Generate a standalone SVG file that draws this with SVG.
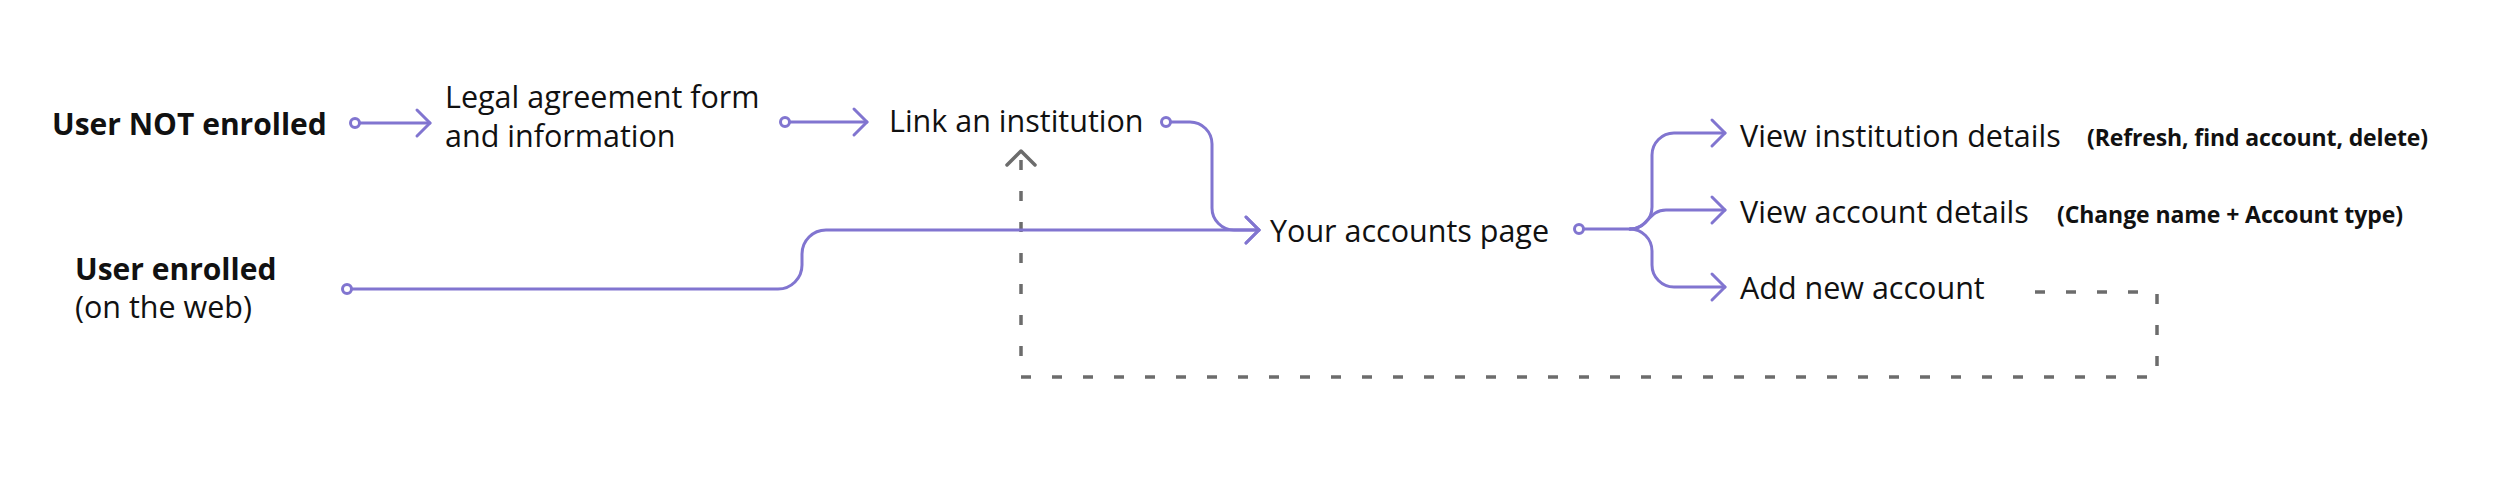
<svg xmlns="http://www.w3.org/2000/svg" width="2500" height="488" viewBox="0 0 2500 488">
  <style>
    .t { font-family: "Open Sans", "Noto Sans", "Liberation Sans", sans-serif; font-size: 30.5px; fill: #111; }
    .b { font-weight: 700; font-size: 30px; }
    .s { font-family: "Open Sans", "Noto Sans", "Liberation Sans", sans-serif; font-size: 23px; font-weight: 700; fill: #111; }
    .c { fill: none; stroke: #8175d0; stroke-width: 3; stroke-linecap: round; stroke-linejoin: round; }
    .d { fill: none; stroke: #6c6c6c; stroke-width: 3.5; stroke-dasharray: 10 21; }
  </style>
  <defs>
    <marker id="arr" markerUnits="userSpaceOnUse" viewBox="-16 -16 20 32" refX="0" refY="0" markerWidth="20" markerHeight="32" orient="auto" overflow="visible">
      <path d="M-13,-13 L0,0 L-13,13" fill="none" stroke="#8175d0" stroke-width="3" stroke-linecap="round" stroke-linejoin="round"/>
    </marker>
    <marker id="dot" markerUnits="userSpaceOnUse" viewBox="-8 -8 16 16" refX="0" refY="0" markerWidth="16" markerHeight="16" orient="auto" overflow="visible">
      <circle cx="0" cy="0" r="4.5" fill="#fff" stroke="#8175d0" stroke-width="3"/>
    </marker>
    <marker id="garr" markerUnits="userSpaceOnUse" viewBox="-16 -16 20 32" refX="0" refY="0" markerWidth="20" markerHeight="32" orient="auto" overflow="visible">
      <path d="M-14,-14 L0,0 L-14,14" fill="none" stroke="#6c6c6c" stroke-width="3.5" stroke-linecap="round" stroke-linejoin="round"/>
    </marker>
  </defs>

  <g id="connectors">
    <path class="d" d="M2035,292 H2157 V377 H1021 V151" marker-end="url(#garr)"/>
    <path class="c" d="M355,123 H430" marker-start="url(#dot)" marker-end="url(#arr)"/>
    <path class="c" d="M785,122 H867" marker-start="url(#dot)" marker-end="url(#arr)"/>
    <path class="c" d="M1166,122 H1190 A22,22 0 0 1 1212,144 V208 A22,22 0 0 0 1234,230 H1259" marker-start="url(#dot)" marker-end="url(#arr)"/>
    <path class="c" d="M347,289 H778 A24,24 0 0 0 802,265 V254 A24,24 0 0 1 826,230 H1259" marker-start="url(#dot)" marker-end="url(#arr)"/>
    <path class="c" d="M1630,229 A22,22 0 0 0 1652,207 V155 A22,22 0 0 1 1674,133 H1725" marker-end="url(#arr)"/>
    <path class="c" d="M1630,229 C1648,229 1648,210 1666,210 H1725" marker-end="url(#arr)"/>
    <path class="c" d="M1630,229 A22,22 0 0 1 1652,251 V265 A22,22 0 0 0 1674,287 H1725" marker-end="url(#arr)"/>
    <path class="c" d="M1579,229 H1630" marker-start="url(#dot)"/>
  </g>

  <g id="user-not-enrolled">
    <text class="t b" x="52" y="135">User NOT enrolled</text>
  </g>
  <g id="legal-agreement">
    <text class="t" x="445" y="108">Legal agreement form</text>
    <text class="t" x="445" y="147">and information</text>
  </g>
  <g id="link-institution">
    <text class="t" x="889" y="132">Link an institution</text>
  </g>
  <g id="user-enrolled">
    <text class="t b" x="75" y="280">User enrolled</text>
    <text class="t" x="75" y="318">(on the web)</text>
  </g>
  <g id="accounts-page">
    <text class="t" x="1270" y="242">Your accounts page</text>
  </g>
  <g id="view-institution">
    <text class="t" x="1740" y="147">View institution details</text>
    <text class="s" x="2087" y="146" textLength="341">(Refresh, find account, delete)</text>
  </g>
  <g id="view-account">
    <text class="t" x="1740" y="223">View account details</text>
    <text class="s" x="2057" y="223" textLength="346">(Change name + Account type)</text>
  </g>
  <g id="add-account">
    <text class="t" x="1740" y="299">Add new account</text>
  </g>
</svg>
